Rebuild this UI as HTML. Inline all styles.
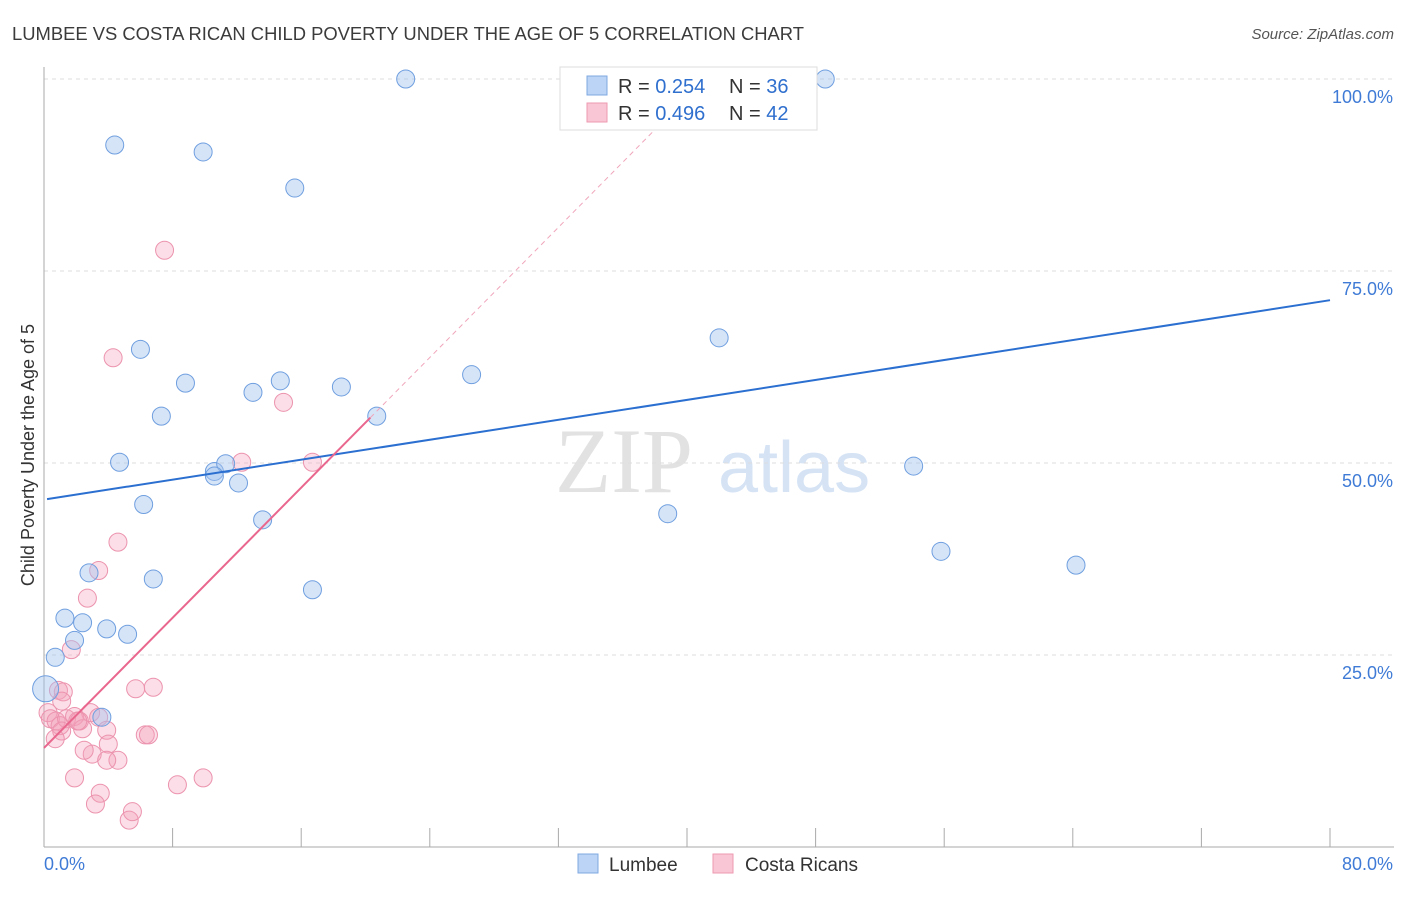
<!DOCTYPE html>
<html><head><meta charset="utf-8"><style>
body{margin:0;background:#fff;font-family:"Liberation Sans",sans-serif}
</style></head><body>
<svg width="1406" height="892" xmlns="http://www.w3.org/2000/svg" id="c">
<text x="12" y="40" font-size="18.4" fill="#3b3b3b">LUMBEE VS COSTA RICAN CHILD POVERTY UNDER THE AGE OF 5 CORRELATION CHART</text>
<text x="1394" y="39" font-size="15" fill="#555" font-style="italic" text-anchor="end">Source: ZipAtlas.com</text>
<text x="555" y="492" font-size="92" fill="#e2e2e2" font-family="Liberation Serif">ZIP</text>
<text x="718" y="492" font-size="72" fill="#d5e3f5">atlas</text>
<text transform="translate(34,455) rotate(-90)" font-size="18" fill="#333" text-anchor="middle">Child Poverty Under the Age of 5</text>
<g id="grid"></g><g id="pts"></g><g id="lines"></g>
<g>
<rect x="560" y="67" width="257" height="63" fill="#fff" stroke="#ddd"/>
<rect x="587" y="76" width="20" height="19" fill="#bcd4f5" stroke="#7fa8e0"/>
<rect x="587" y="103" width="20" height="19" fill="#f8c6d4" stroke="#ee9ab2"/>
<text x="618" y="93" font-size="20" fill="#333">R = <tspan fill="#2f6fce">0.254</tspan></text>
<text x="729" y="93" font-size="20" fill="#333">N = <tspan fill="#2f6fce">36</tspan></text>
<text x="618" y="120" font-size="20" fill="#333">R = <tspan fill="#2f6fce">0.496</tspan></text>
<text x="729" y="120" font-size="20" fill="#333">N = <tspan fill="#2f6fce">42</tspan></text>
</g>
<g>
<rect x="578" y="854" width="20" height="19" fill="#bcd4f5" stroke="#7fa8e0"/>
<text x="609" y="871" font-size="19" fill="#333">Lumbee</text>
<rect x="713" y="854" width="20" height="19" fill="#f8c6d4" stroke="#ee9ab2"/>
<text x="745" y="871" font-size="19" fill="#333">Costa Ricans</text>
</g>
</svg>
<script>
const yTicks=[25,50,75,100];
const xTickLabels=["0.0%","80.0%"];
const lumbeeX=[22.5,48.6,4.4,9.9,15.6,6.0,42.0,8.8,14.7,13.0,18.5,26.6,7.3,20.7,4.7,10.6,11.3,10.6,12.1,54.1,6.2,13.6,38.8,55.8,64.2,6.8,2.8,16.7,1.3,2.4,3.9,5.2,1.9,0.7,0.1,3.6];
const lumbeeY=[100,100,91.4,90.5,85.8,64.8,66.3,60.4,60.7,59.2,59.9,61.5,56.1,56.1,50.1,48.9,49.9,48.3,47.4,49.6,44.6,42.6,43.4,38.5,36.7,34.9,35.7,33.5,29.8,29.2,28.4,27.7,26.9,24.7,20.6,16.9];
const lumbeeR=[9,9,9,9,9,9,9,9,9,9,9,9,9,9,9,9,9,9,9,9,9,9,9,9,9,9,9,9,9,9,9,9,9,9,13,9];
const crX=[7.5,4.3,14.9,12.3,16.7,4.6,3.4,2.7,1.7,5.7,6.8,0.9,1.2,0.25,0.4,0.75,1.0,1.4,1.9,2.9,2.2,3.4,2.4,3.9,1.1,0.7,4.0,3.0,2.5,4.6,3.9,1.9,6.3,6.5,8.3,9.9,3.5,3.2,5.3,5.5,1.1,2.1];
const crY=[77.7,63.7,57.9,50.1,50.1,39.7,36.0,32.4,25.7,20.6,20.8,20.4,20.2,17.5,16.7,16.4,15.8,16.7,17.0,17.5,16.4,16.9,15.4,15.2,15.1,14.1,13.4,12.1,12.6,11.3,11.3,9.0,14.6,14.6,8.1,9.0,7.0,5.6,3.5,4.6,19.0,16.4];
const crR=[9,9,9,9,9,9,9,9,9,9,9,9,9,9,9,9,9,9,9,9,9,9,9,9,9,9,9,9,9,9,9,9,9,9,9,9,9,9,9,9,9,9];
const blueLine=[0.19,45.3,80,71.2];
const pinkLine=[0,12.9,20.3,55.9];
const NS="http://www.w3.org/2000/svg";
const X=v=>44+v*16.075, Y=v=>847-v*7.68;
function mk(t,a,p){const e=document.createElementNS(NS,t);for(const k in a)e.setAttribute(k,a[k]);document.getElementById(p).appendChild(e);return e;}
for(const t of yTicks){
 const g=mk('line',{x1:44,x2:1394,y1:Y(t),y2:Y(t),stroke:'#ddd','stroke-dasharray':'4,4'},'grid');
 
 
 const l=mk('text',{x:1393,y:Y(t)+24,'font-size':18,fill:'#3f7bd6','text-anchor':'end'},'grid');
 l.textContent=t.toFixed(1)+'%';
 
 
}
const ax=mk('line',{x1:44,x2:44,y1:67,y2:847,stroke:'#aaa'},'grid');


const bx=mk('line',{x1:44,x2:1394,y1:847,y2:847,stroke:'#aaa'},'grid');


for(let i=0;i<=10;i++){const t=mk('line',{x1:X(i*8),x2:X(i*8),y1:828,y2:847,stroke:'#aaa'},'grid');
 
 }
xTickLabels.forEach((s,i)=>{const t=mk('text',{x:i?1393:44,y:870,'font-size':18,fill:'#3f7bd6','text-anchor':i?'end':'start'},'grid');t.textContent=s;
 
 });
crX.forEach((x,i)=>{const c=mk('circle',{cx:X(x),cy:Y(crY[i]),r:crR[i],fill:'rgba(244,160,186,0.35)',stroke:'#ec93ae','stroke-width':1},'pts');
 
 });
lumbeeX.forEach((x,i)=>{const c=mk('circle',{cx:X(x),cy:Y(lumbeeY[i]),r:lumbeeR[i],fill:'rgba(164,196,240,0.45)',stroke:'#6f9fdf','stroke-width':1},'pts');
 
 });
const bl=mk('line',{x1:X(blueLine[0]),y1:Y(blueLine[1]),x2:X(blueLine[2]),y2:Y(blueLine[3]),stroke:'#2b6fd0','stroke-width':2},'lines');


const slope=(pinkLine[3]-pinkLine[1])/(pinkLine[2]-pinkLine[0]);
const xe=(100-pinkLine[1])/slope;
const pd=mk('line',{x1:X(pinkLine[2]),y1:Y(pinkLine[3]),x2:X(xe),y2:Y(100),stroke:'#f0a6bb','stroke-width':1,'stroke-dasharray':'5,4'},'lines');


const pl=mk('line',{x1:X(pinkLine[0]),y1:Y(pinkLine[1]),x2:X(pinkLine[2]),y2:Y(pinkLine[3]),stroke:'#e9678e','stroke-width':2},'lines');


</script>
</body></html>
